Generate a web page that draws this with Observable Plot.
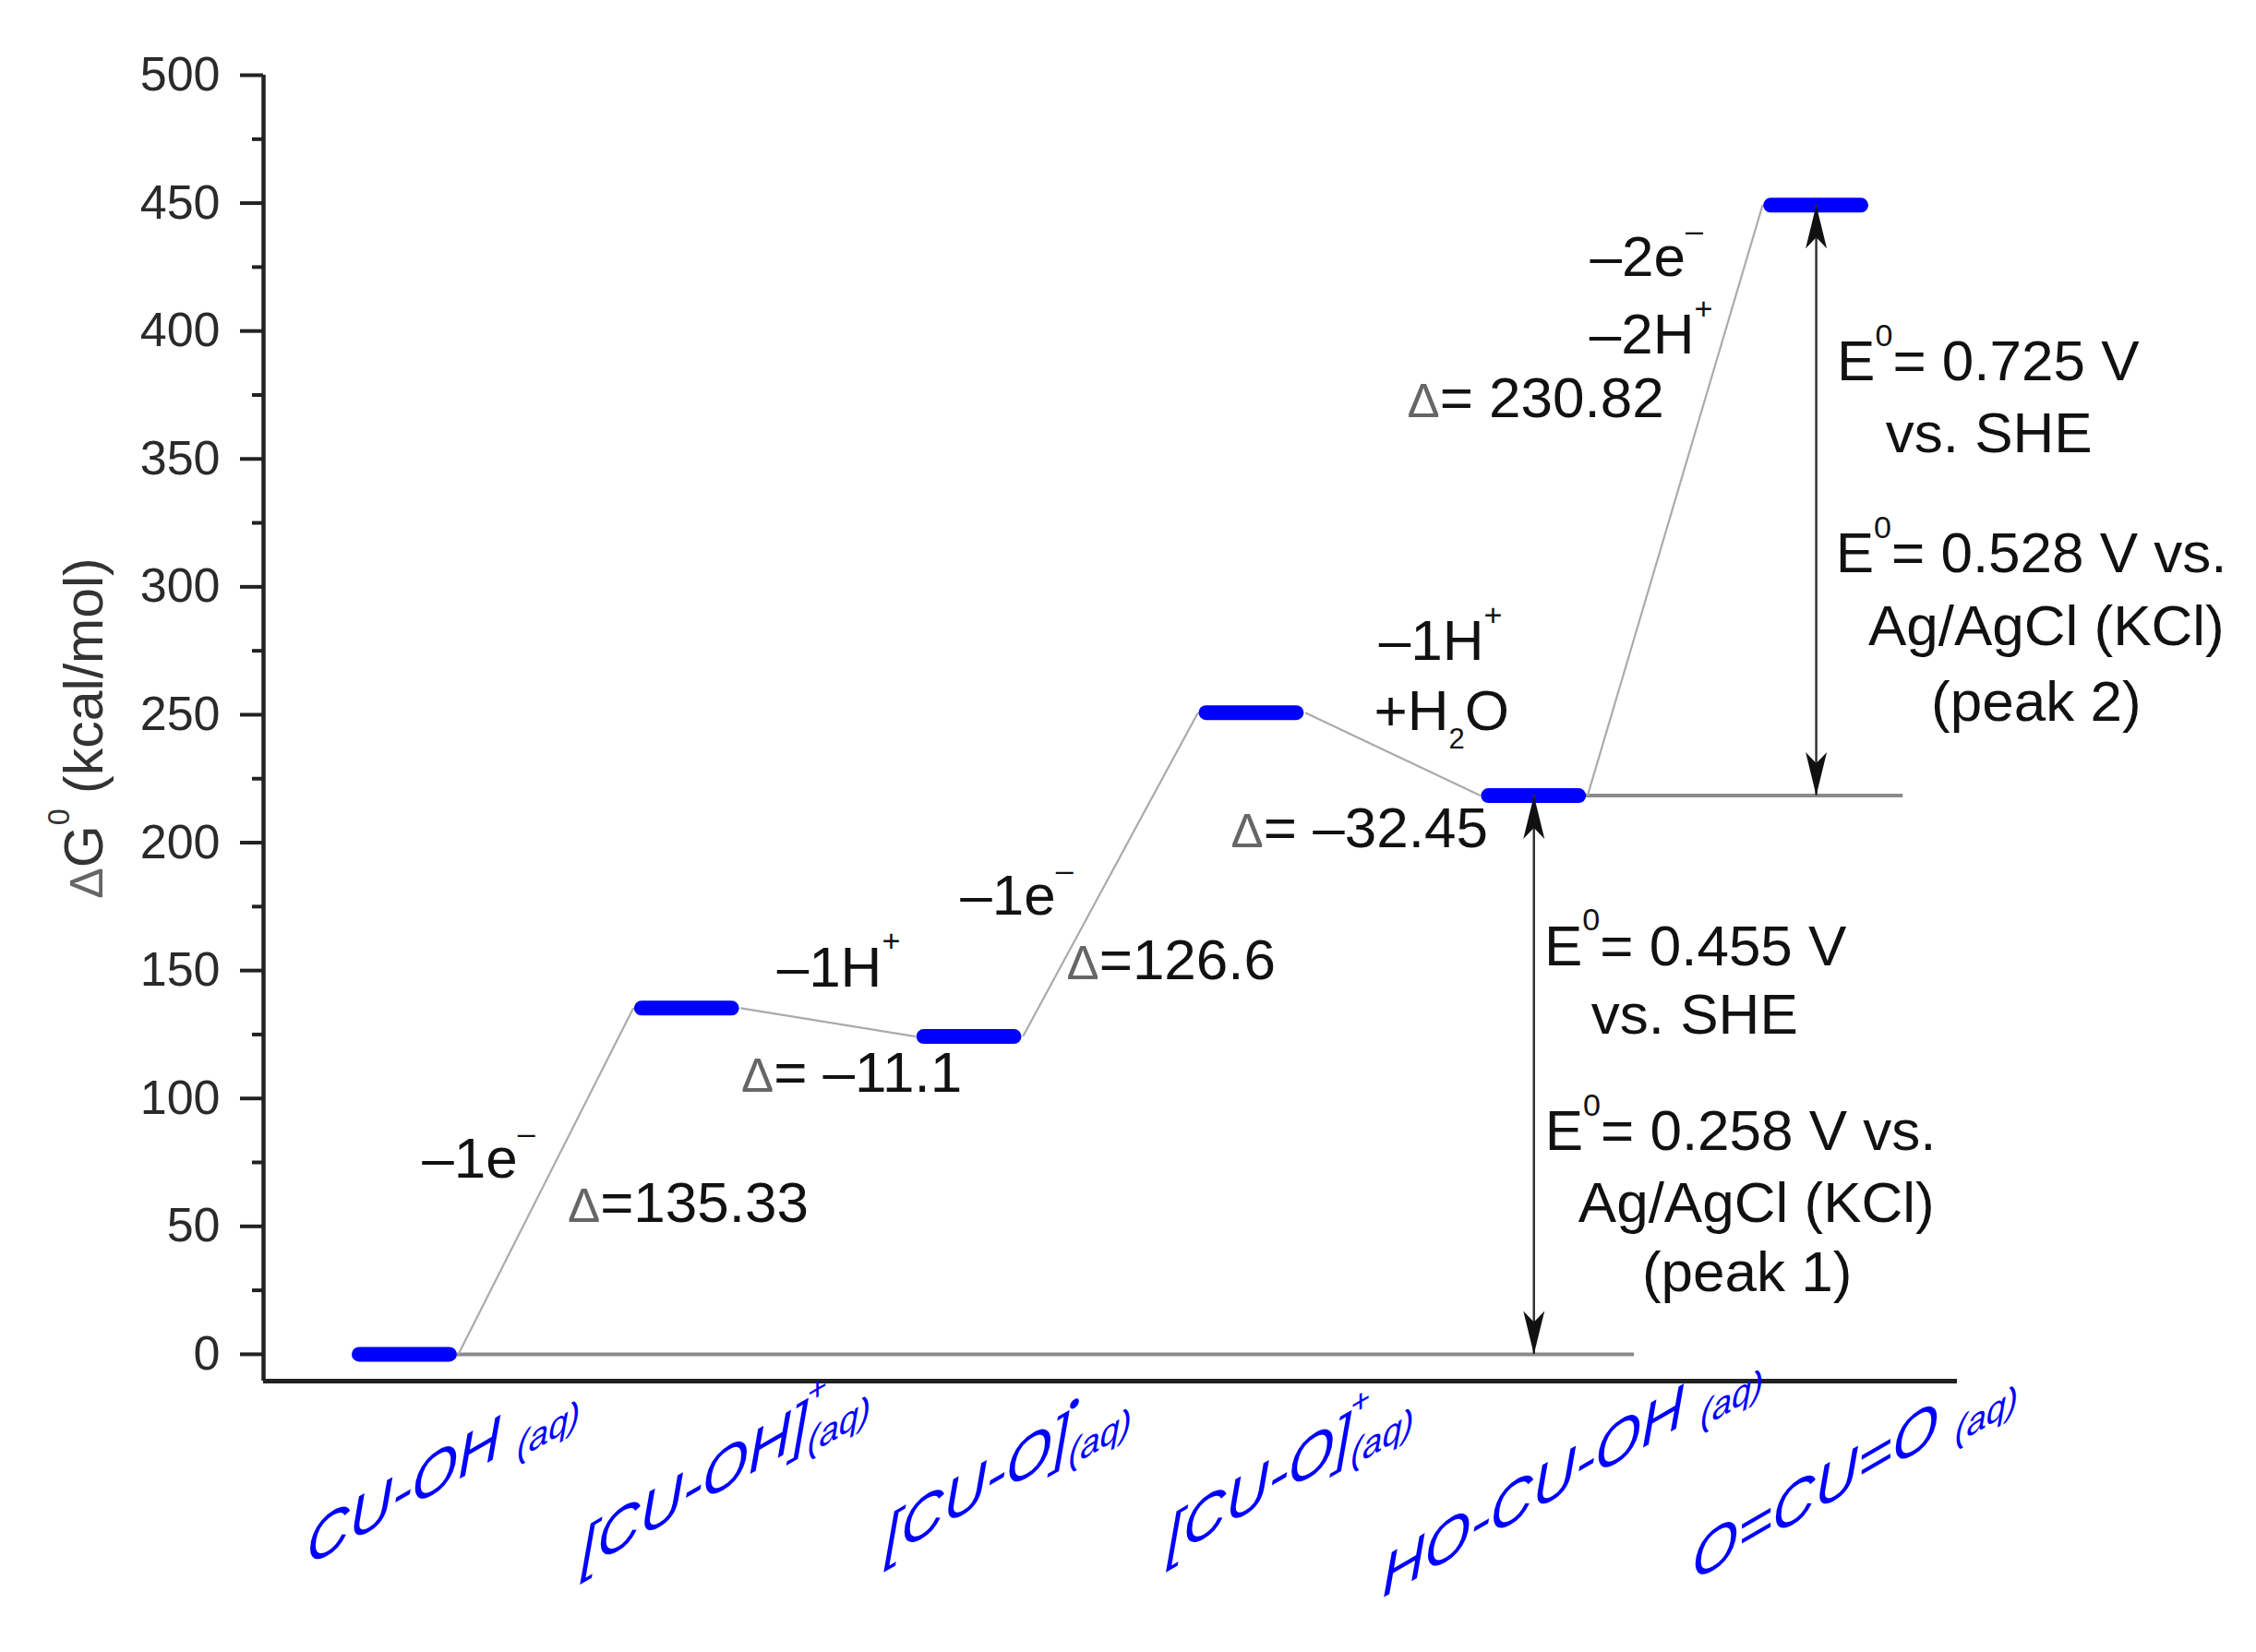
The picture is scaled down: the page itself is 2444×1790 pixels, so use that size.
<!DOCTYPE html>
<html>
<head>
<meta charset="utf-8">
<script src="https://cdn.jsdelivr.net/npm/d3@7"></script>
<script src="https://cdn.jsdelivr.net/npm/@observablehq/plot@0.6"></script>
<style>
  html, body { margin: 0; padding: 0; background: #fff; }
  #chart { width: 2444px; height: 1790px; }
</style>
</head>
<body>
<div id="chart"></div>
<script>
// ---------- data ----------
// species (x categories), with light markup: ^{sup}, _{sub}, ~{aq-sub}, @{Δ}
const species = [
  "CU-OH ~{(aq)}",
  "[CU-OH]^{+}~{(aq)}",
  "[CU-O]^{•}~{(aq)}",
  "[CU-O]^{+}~{(aq)}",
  "HO-CU-OH ~{(aq)}",
  "O=CU=O ~{(aq)}"
];
// free-energy levels ΔG0 (kcal/mol)
const energies = [0, 135.33, 124.23, 250.83, 218.38, 449.20];
// step changes between successive species
const stepDeltas = [135.33, -11.1, 126.6, -32.45, 230.82];
const yTicks = [0, 50, 100, 150, 200, 250, 300, 350, 400, 450, 500];
const yMinorTicks = [25, 75, 125, 175, 225, 275, 325, 375, 425, 475];
const yTitle = "@{Δ}G^{0} (kcal/mol)";

// annotation texts: [text, x (species index units), y (kcal/mol, baseline)]
const notes = [
  ["–1e^{–}", 0.262, 68.9],
  ["@{Δ}=135.33", 1.004, 51.9],
  ["–1H^{+}", 1.537, 143.9],
  ["@{Δ}= –11.1", 1.583, 102.5],
  ["–1e^{–}", 2.168, 171.7],
  ["@{Δ}=126.6", 2.715, 146.5],
  ["–1H^{+}", 3.669, 271.3],
  ["+H_{2}O", 3.673, 244.2],
  ["@{Δ}= –32.45", 3.382, 198.1],
  ["–2e^{–}", 4.399, 421.7],
  ["–2H^{+}", 4.415, 391.1],
  ["@{Δ}= 230.82", 4.006, 366.2],
  ["E^{0}= 0.725 V", 5.609, 380.6],
  ["vs. SHE", 5.612, 352.8],
  ["E^{0}= 0.528 V vs.", 5.762, 305.6],
  ["Ag/AgCl (KCl)", 5.815, 277.4],
  ["(peak 2)", 5.779, 247.5],
  ["E^{0}= 0.455 V", 4.572, 152.2],
  ["vs. SHE", 4.569, 125.2],
  ["E^{0}= 0.258 V vs.", 4.732, 79.7],
  ["Ag/AgCl (KCl)", 4.788, 51.6],
  ["(peak 1)", 4.755, 24.5]
];

// ---------- derived tables ----------
const levels = energies.map((v, i) => ({i, v, name: species[i]}));
const steps = d3.pairs(levels).map(([a, b], k) => ({a, b, d: stepDeltas[k]}));
const refLines = [
  {y: energies[0], x1: 0.0, x2: 4.356},
  {y: energies[4], x1: 4.0, x2: 5.308}
];
const arrows = [
  {x: 4, from: energies[0], to: energies[4]},
  {x: 5, from: energies[4], to: energies[5]}
];

const yMin = -10.5;
const halfBar = 0.16;
const gap = 0.19;

// filled, notched arrowhead with its tip at the origin, pointing up
const arrowHead = {
  draw(ctx) {
    ctx.moveTo(0, 0);
    ctx.lineTo(-11.5, 47);
    ctx.lineTo(0, 35);
    ctx.lineTo(11.5, 47);
    ctx.closePath();
  }
};

const plot = Plot.plot({
  width: 2444,
  height: 1790,
  marginLeft: 285,
  marginRight: 324,
  marginTop: 81,
  marginBottom: 294,
  x: {type: "linear", domain: [-0.5, 5.5], axis: null},
  y: {domain: [yMin, 500]},
  style: {fontFamily: "'Liberation Sans', Arial, sans-serif", background: "#fff", overflow: "visible"},
  marks: [
    Plot.axisY({ticks: yMinorTicks, tickSize: 12, strokeWidth: 4, stroke: "#222", tickFormat: () => "", label: null}),
    Plot.axisY({ticks: yTicks, tickSize: 25, tickPadding: 22, strokeWidth: 4, stroke: "#222", fill: "#2a2a2a", fontSize: 52, label: null}),
    Plot.ruleX([-0.5], {y1: yMin, y2: 500, stroke: "#222", strokeWidth: 4.5}),
    Plot.ruleY([yMin], {x1: -0.5, x2: 5.5, stroke: "#222", strokeWidth: 5}),
    // reference baselines
    Plot.ruleY(refLines, {y: "y", x1: "x1", x2: "x2", stroke: "#8a8a8a", strokeWidth: 4}),
    // thin connectors
    Plot.link(steps, {
      x1: d => d.a.i + gap, y1: d => d.a.v,
      x2: d => d.b.i - gap, y2: d => d.b.v,
      stroke: "#ababab", strokeWidth: 2.2
    }),
    // energy levels
    Plot.ruleY(levels, {y: "v", x1: d => d.i - halfBar, x2: d => d.i + halfBar, stroke: "#0000ff", strokeWidth: 16, strokeLinecap: "round"}),
    // double-headed arrows
    Plot.ruleX(arrows, {x: "x", y1: "from", y2: "to", stroke: "#333", strokeWidth: 2.5}),
    Plot.dot(arrows, {x: "x", y: "to", symbol: arrowHead, fill: "#111", stroke: "none", r: 10}),
    Plot.dot(arrows, {x: "x", y: "from", symbol: arrowHead, fill: "#111", stroke: "none", r: 10, rotate: 180}),
    // annotations
    Plot.text(notes, {x: d => d[1], y: d => d[2], text: d => d[0], fontSize: 62, fill: "#111", lineAnchor: "bottom", textAnchor: "middle"}),
    // species labels (x axis)
    Plot.text(levels, {x: "i", y: () => yMin, text: "name", dx: 42, dy: 116, fontSize: 64, fontStyle: "italic", fill: "#0000ff", lineAnchor: "bottom", textAnchor: "middle"}),
    // y title
    Plot.text([yTitle], {text: d => d, frameAnchor: "left", dx: -175, rotate: -90, fontSize: 59, fill: "#333", lineAnchor: "bottom", textAnchor: "middle"})
  ]
});

document.getElementById("chart").appendChild(plot);

// skew the species labels like the reference (baseline rising at 30°, letters upright)
plot.querySelectorAll("text").forEach(t => {
  if (!species.includes(t.textContent)) return;
  const tr = t.getAttribute("transform");
  if (tr) {
    t.setAttribute("transform", tr + " skewY(-30)");
  } else {
    const x = t.getAttribute("x") || 0, y = t.getAttribute("y") || 0;
    t.removeAttribute("x"); t.removeAttribute("y");
    t.setAttribute("transform", `translate(${x},${y}) skewY(-30)`);
  }
});

// turn the light markup into tspans (superscripts, subscripts, grey Δ)
const SVGNS = "http://www.w3.org/2000/svg";
function richText(t) {
  const raw = t.textContent;
  if (!/[\^_~@]\{/.test(raw)) return;
  const fs = parseFloat(getComputedStyle(t).fontSize) || 16;
  const parts = raw.split(/([\^_~@]\{[^}]*\})/).filter(s => s !== "");
  t.textContent = "";
  let shift = 0, lastSupLen = 0, prevWasSup = false;
  for (const p of parts) {
    const ts = document.createElementNS(SVGNS, "tspan");
    let target = 0, size = null, txt = p, dx = 0, isSup = false;
    const kind = /^[\^_~@]\{/.test(p) ? p[0] : null;
    if (kind) txt = p.slice(2, -1);
    if (kind === "^") { target = 0.6 * fs; size = 0.55 * fs; isSup = true; }
    else if (kind === "_") { target = -0.33 * fs; size = 0.5 * fs; }
    else if (kind === "~") { target = -0.24 * fs; size = 0.6 * fs; if (prevWasSup) dx = -lastSupLen; }
    else if (kind === "@") { size = 0.85 * fs; ts.setAttribute("fill", "#666"); }
    const dy = shift - target;
    if (dy !== 0) ts.setAttribute("dy", dy.toFixed(2));
    if (dx) ts.setAttribute("dx", dx.toFixed(2));
    if (size) ts.setAttribute("font-size", size.toFixed(2));
    shift = target;
    ts.textContent = txt;
    t.appendChild(ts);
    if (isSup) lastSupLen = ts.getComputedTextLength();
    prevWasSup = isSup;
  }
}
plot.querySelectorAll("text").forEach(richText);
</script>
</body>
</html>
